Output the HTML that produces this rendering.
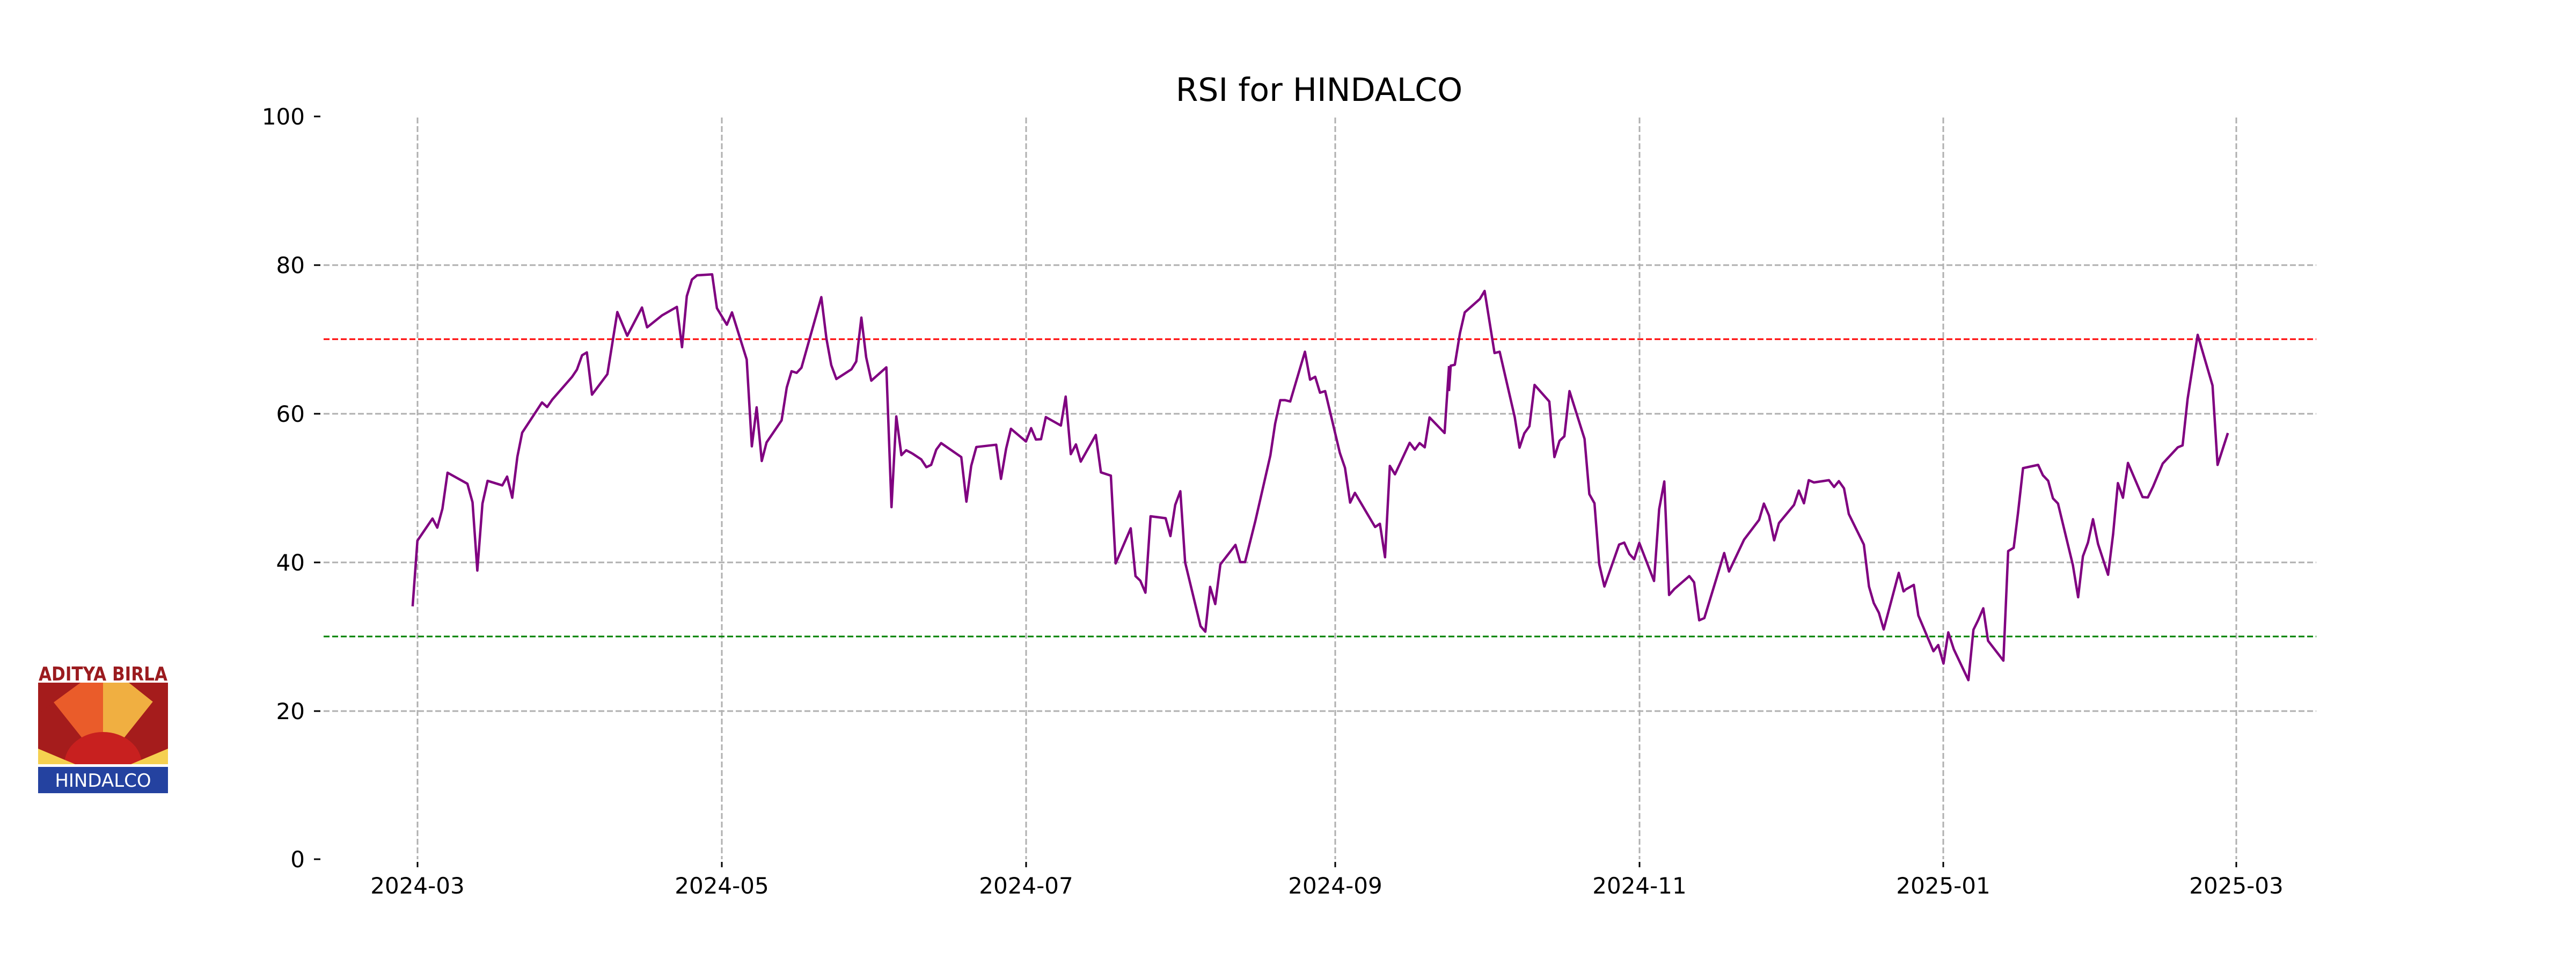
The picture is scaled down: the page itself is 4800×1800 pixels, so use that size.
<!DOCTYPE html>
<html><head><meta charset="utf-8"><style>
html,body{margin:0;padding:0;background:#fff;}
svg{display:block;}
text{font-family:"DejaVu Sans","Liberation Sans",sans-serif;}
</style></head><body>
<svg width="4800" height="1800" viewBox="0 0 4800 1800" xmlns="http://www.w3.org/2000/svg">
<rect width="4800" height="1800" fill="#fff"/>
<text x="2458" y="188" font-size="60" text-anchor="middle" fill="#000">RSI for HINDALCO</text>
<!-- horizontal grid -->
<g stroke="#b0b0b0" stroke-width="3" stroke-dasharray="11,5">
<line x1="603" y1="494" x2="4316" y2="494"/>
<line x1="603" y1="771" x2="4316" y2="771"/>
<line x1="603" y1="1048" x2="4316" y2="1048"/>
<line x1="603" y1="1325" x2="4316" y2="1325"/>
<line x1="778" y1="219" x2="778" y2="1601"/>
<line x1="1345" y1="219" x2="1345" y2="1601"/>
<line x1="1912" y1="219" x2="1912" y2="1601"/>
<line x1="2488" y1="219" x2="2488" y2="1601"/>
<line x1="3055" y1="219" x2="3055" y2="1601"/>
<line x1="3621" y1="219" x2="3621" y2="1601"/>
<line x1="4167" y1="219" x2="4167" y2="1601"/>
</g>
<line x1="603" y1="632" x2="4316" y2="632" stroke="#ff0000" stroke-width="3" stroke-dasharray="11,5"/>
<line x1="603" y1="1186" x2="4316" y2="1186" stroke="#008000" stroke-width="3" stroke-dasharray="11,5"/>
<!-- y ticks -->
<g stroke="#000" stroke-width="3">
<line x1="585" y1="217" x2="597" y2="217"/>
<line x1="585" y1="494" x2="597" y2="494"/>
<line x1="585" y1="771" x2="597" y2="771"/>
<line x1="585" y1="1048" x2="597" y2="1048"/>
<line x1="585" y1="1325" x2="597" y2="1325"/>
<line x1="585" y1="1601" x2="597" y2="1601"/>
<line x1="778" y1="1606" x2="778" y2="1616"/>
<line x1="1345" y1="1606" x2="1345" y2="1616"/>
<line x1="1912" y1="1606" x2="1912" y2="1616"/>
<line x1="2488" y1="1606" x2="2488" y2="1616"/>
<line x1="3055" y1="1606" x2="3055" y2="1616"/>
<line x1="3621" y1="1606" x2="3621" y2="1616"/>
<line x1="4167" y1="1606" x2="4167" y2="1616"/>
</g>
<g font-size="42" fill="#000" text-anchor="end">
<text x="568" y="232">100</text>
<text x="568" y="509">80</text>
<text x="568" y="786">60</text>
<text x="568" y="1063">40</text>
<text x="568" y="1340">20</text>
<text x="568" y="1616">0</text>
</g>
<g font-size="42" fill="#000" text-anchor="middle">
<text x="778" y="1665">2024-03</text>
<text x="1345" y="1665">2024-05</text>
<text x="1912" y="1665">2024-07</text>
<text x="2488" y="1665">2024-09</text>
<text x="3055" y="1665">2024-11</text>
<text x="3621" y="1665">2025-01</text>
<text x="4167" y="1665">2025-03</text>
</g>
<!-- series -->
<g fill="none" stroke="#800080" stroke-width="4.5" stroke-linejoin="round">
<polyline vector-effect="non-scaling-stroke" transform="translate(700,450) scale(0.6378,0.6059)" points="108,1122 122,920 166,852 180,880 195,822 210,711 268,745 283,802 297,1012 312,806 327,736 370,750 384,723 399,788 414,662 428,588 486,495 501,509 516,486 574,416 588,394 603,350 617,341 632,471 677,408 706,217 735,290 778,203 793,264 837,227 880,201 895,325 909,168 924,117 939,104 983,101 997,205 1026,256 1041,218 1084,363 1099,630 1113,510 1128,675 1142,618 1186,550 1201,449 1215,399 1230,404 1244,388 1302,171 1317,299 1331,380 1346,423 1390,393 1404,369 1419,234 1433,356 1448,428 1492,387 1507,817 1521,538 1536,657 1550,642 1568,652"/>
<polyline vector-effect="non-scaling-stroke" transform="translate(1700,450) scale(0.6378,0.6059)" points="0,652 26,670 41,694 55,687 70,640 84,620 143,663 158,800 172,690 187,632 245,625 259,730 274,637 288,576 332,615 347,574 361,609 376,608 390,540 434,566 448,477 463,654 478,624 492,677 536,595 551,710 580,720 594,990 638,882 652,1029 666,1043 681,1080 696,845 740,851 754,906 768,810 783,768 797,987 842,1183 856,1200 870,1062 885,1115 900,993 944,933 958,986 972,986 1002,860 1046,658 1060,560 1075,488 1089,488 1104,492 1147,339 1162,425 1177,416 1191,465 1206,460 1249,650 1264,696 1279,803 1293,773 1352,878 1366,868 1381,971 1395,690 1410,716 1453,619 1468,640 1482,620 1497,633 1511,541 1555,589 1568,383"/>
<polyline vector-effect="non-scaling-stroke" transform="translate(2700,450) scale(0.6378,0.6059)" points="0,460 5,382 17,379 32,282 46,218 90,177 104,152 133,343 148,339 192,540 206,634 220,590 235,568 250,441 293,492 308,663 323,613 337,599 352,460 396,607 410,777 425,805 439,993 454,1061 497,932 512,926 527,961 541,977 556,927 599,1044 614,823 629,738 643,1087 658,1069 702,1029 716,1048 731,1165 746,1158 804,958 818,1015 862,917 906,856 920,806 935,843 950,919 964,866 1008,810 1022,766 1037,805 1051,734 1066,741 1110,734 1125,755 1139,737 1154,759 1168,838 1212,932 1227,1061 1241,1112 1256,1142 1270,1193 1314,1019 1328,1076 1333,1072"/>
<polyline vector-effect="non-scaling-stroke" transform="translate(3550,450) scale(0.4464,0.6059)" points="0,1071 36,1056 55,1150 118,1260 138,1241 160,1298 180,1202 203,1254 264,1349 285,1194 305,1164 326,1128 346,1228 410,1289 430,952 453,942 471,835 492,697 555,687 575,719 597,736 617,790 638,806 700,995 722,1094 742,968 763,926 784,854 805,930 847,1025 868,900 888,743 909,788 930,681 991,786 1013,787 1034,755 1075,683 1138,633 1158,627 1179,484 1221,287 1283,443 1304,687 1347,589"/>
</g>
<!-- logo -->
<g>
<text x="192" y="1268" font-size="36" font-weight="bold" text-anchor="middle" fill="#9b1b1f" font-family="Liberation Sans, sans-serif" textLength="240" lengthAdjust="spacingAndGlyphs">ADITYA BIRLA</text>
<rect x="71" y="1272" width="242" height="152" fill="#f07c2a"/>
<polygon points="71,1272 192,1424 71,1424" fill="#a51c1c"/>
<polygon points="313,1272 192,1424 313,1424" fill="#a51c1c"/>
<polygon points="71,1272 192,1424 192,1272" fill="#e8542a" opacity="0.8"/>
<polygon points="192,1272 313,1272 192,1424" fill="#f0b845" opacity="0.85"/>
<polygon points="71,1272 150,1272 71,1330" fill="#a51c1c"/>
<polygon points="313,1272 240,1272 313,1330" fill="#a51c1c"/>
<path d="M120,1424 A72,60 0 0 1 264,1424 Z" fill="#c8201f"/>
<polygon points="71,1395 140,1424 71,1424" fill="#f5d050"/>
<polygon points="313,1395 244,1424 313,1424" fill="#f5d050"/>
<rect x="71" y="1429" width="242" height="49" fill="#2442a0"/>
<text x="192" y="1466" font-size="34" text-anchor="middle" fill="#fff" font-family="Liberation Sans, sans-serif">HINDALCO</text>
</g>
</svg>
</body></html>
